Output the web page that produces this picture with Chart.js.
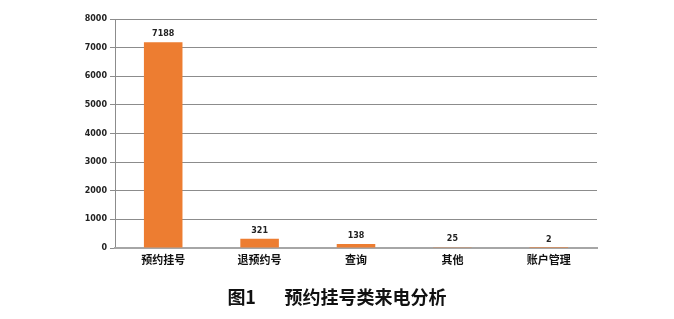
<!DOCTYPE html>
<html>
<head>
<meta charset="utf-8">
<script src="https://cdn.jsdelivr.net/npm/chart.js@4"></script>
<style>
    html, body { margin: 0; padding: 0; background: #fff; }
    #wrap { position: relative; width: 674px; height: 319px; }
    #titulo {
        position: absolute; left: 0; width: 674px; top: 284px;
        text-align: center; white-space: pre;
        font-family: "Noto Sans CJK SC"; font-weight: bold; font-size: 18px;
        line-height: 24px; color: #111;
    }
</style>
</head>
<body>
<div id="wrap">
    <canvas id="mainChart" width="674" height="319"></canvas>
    <div id="titulo"></div>
</div>
<script>
const categorias = ['预约挂号', '退预约号', '查询', '其他', '账户管理'];
const llamadas = [7188, 321, 138, 25, 2];
const yTicks = [0, 1000, 2000, 3000, 4000, 5000, 6000, 7000, 8000];
const titulo = '图1       预约挂号类来电分析';

document.getElementById('titulo').textContent = titulo;

// etiquetas encima de las barras
const valueLabels = {
    id: 'valueLabels',
    afterDatasetsDraw(chart) {
        const ctx = chart.ctx;
        const meta = chart.getDatasetMeta(0);
        ctx.save();
        ctx.font = 'bold 8px "DejaVu Sans"';
        ctx.fillStyle = '#222';
        ctx.textAlign = 'center';
        ctx.textBaseline = 'bottom';
        meta.data.forEach((bar, i) => {
            ctx.fillText(chart.data.datasets[0].data[i], bar.x, bar.y - 4);
        });
        ctx.restore();
    }
};

const ctx1 = document.getElementById('mainChart').getContext('2d');
new Chart(ctx1, {
    type: 'bar',
    data: {
        labels: categorias,
        datasets: [{
            data: llamadas,
            backgroundColor: '#ED7D31',
            borderWidth: 0,
            categoryPercentage: 1,
            barPercentage: 0.4
        }]
    },
    options: {
        responsive: false,
        animation: false,
        layout: { padding: { left: 0, right: 77, top: 19, bottom: 0 } },
        plugins: {
            legend: { display: false },
            tooltip: { enabled: false },
            title: { display: false }
        },
        scales: {
            y: {
                min: 0,
                max: 8000,
                afterBuildTicks: (scale) => { scale.ticks = yTicks.map(v => ({ value: v })); },
                afterFit: (scale) => { scale.width = 115; },
                ticks: {
                    color: '#222',
                    padding: 3,
                    callback: (v) => String(v),
                    font: { family: '"DejaVu Sans"', size: 8, weight: 'bold' }
                },
                grid: { color: '#8c8c8c', lineWidth: 1, tickLength: 5 },
                border: { color: '#8c8c8c', width: 1 }
            },
            x: {
                afterFit: (scale) => { scale.height = 71; },
                ticks: {
                    color: '#111',
                    padding: 5,
                    font: { family: '"Noto Sans CJK SC"', size: 11, weight: 'bold' }
                },
                grid: { display: false, drawTicks: false },
                border: { color: '#a6a6a6', width: 2 }
            }
        }
    },
    plugins: [valueLabels]
});
</script>
</body>
</html>
